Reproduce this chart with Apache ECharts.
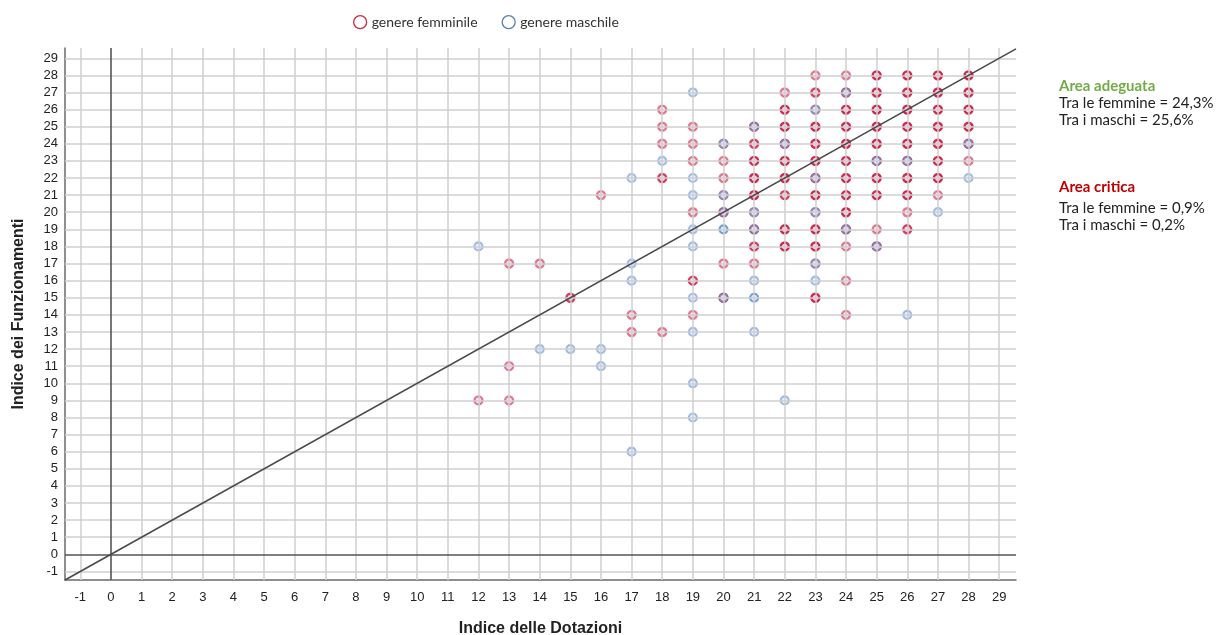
<!DOCTYPE html>
<html><head><meta charset="utf-8">
<script src="https://cdn.jsdelivr.net/npm/echarts@6/dist/echarts.min.js"></script>
<style>html,body{margin:0;padding:0;background:#fff}#c{width:1216px;height:635px}</style>
</head><body><div id="c"></div>
<script>
// ---- data ----
const xTicks = [-1,0,1,2,3,4,5,6,7,8,9,10,11,12,13,14,15,16,17,18,19,20,21,22,23,24,25,26,27,28,29];
const yTicks = [-1,0,1,2,3,4,5,6,7,8,9,10,11,12,13,14,15,16,17,18,19,20,21,22,23,24,25,26,27,28,29];
const xExtent = [-1.5, 29.55];
const yExtent = [-1.5, 29.6];
const seriesNames = ['genere femminile', 'genere maschile'];
// [Indice delle Dotazioni, Indice dei Funzionamenti, overlap count read from darkness]
const femalePoints = [
 [12,9,1],
 [13,17,1],[13,11,1],[13,9,1],
 [14,17,1],
 [15,15,2],
 [16,21,1],
 [17,14,1],[17,13,1],
 [18,26,1],[18,25,1],[18,24,1],[18,22,2],[18,13,1],
 [19,25,1],[19,24,1],[19,23,1],[19,20,1],[19,16,2],[19,14,1],
 [20,24,1],[20,23,1],[20,22,1],[20,21,1],[20,20,2],[20,17,1],[20,15,2],
 [21,25,2],[21,24,2],[21,23,3],[21,22,3],[21,21,3],[21,20,1],[21,19,2],[21,18,2],[21,17,1],
 [22,27,1],[22,26,3],[22,25,3],[22,24,2],[22,23,3],[22,22,3],[22,21,2],[22,19,3],[22,18,3],
 [23,28,1],[23,27,2],[23,26,1],[23,25,3],[23,24,3],[23,23,3],[23,22,2],[23,21,3],[23,20,1],[23,19,3],[23,18,3],[23,17,1],[23,15,3],
 [24,28,1],[24,27,2],[24,26,3],[24,25,3],[24,24,3],[24,23,3],[24,22,3],[24,21,3],[24,20,3],[24,19,2],[24,18,1],[24,16,1],[24,14,1],
 [25,28,3],[25,27,3],[25,26,3],[25,25,3],[25,24,3],[25,23,2],[25,22,3],[25,21,3],[25,19,1],[25,18,2],
 [26,28,3],[26,27,3],[26,26,3],[26,25,3],[26,24,3],[26,23,2],[26,22,3],[26,21,3],[26,20,1],[26,19,2],
 [27,28,3],[27,27,3],[27,26,3],[27,25,3],[27,24,3],[27,23,3],[27,22,3],[27,21,1],
 [28,28,3],[28,27,3],[28,26,3],[28,25,3],[28,24,2],[28,23,1]
];
const malePoints = [
 [12,18,1],[14,12,1],[15,12,1],[16,12,1],[16,11,1],
 [17,22,1],[17,17,1],[17,16,1],[17,6,1],
 [18,23,1],
 [19,27,1],[19,22,1],[19,21,1],[19,19,1],[19,18,1],[19,15,1],[19,13,1],[19,10,1],[19,8,1],
 [20,24,1],[20,21,1],[20,20,1],[20,19,2],[20,15,1],
 [21,25,1],[21,20,1],[21,19,1],[21,16,1],[21,15,2],[21,13,1],
 [22,24,1],[22,9,1],
 [23,26,1],[23,22,1],[23,20,1],[23,17,1],[23,16,1],
 [24,27,1],[24,19,1],
 [25,23,1],[25,18,1],
 [26,23,1],[26,14,1],
 [27,20,1],
 [28,24,1],[28,22,1]
];

// ---- build ----
const FEM = '#c8143f', MAL = '#4a80d0';
function toItems(pts, a) {
  return pts.map(p => ({ value: [p[0], p[1]], itemStyle: { opacity: 1 - Math.pow(1 - a, p[2]) } }));
}
const gridLineData = xTicks.filter(v => v !== 0).map(v => ({ xAxis: v }))
  .concat(yTicks.filter(v => v !== 0).map(v => ({ yAxis: v })));
const zeroLineData = [{ xAxis: 0 }, { yAxis: 0 }];
const lblFont = '"Liberation Sans", Arial, sans-serif';
const txtFont = 'Lato, "Open Sans", sans-serif';

const chart = echarts.init(document.getElementById('c'), null, { renderer: 'canvas' });
chart.setOption({
  animation: false,
  backgroundColor: '#fff',
  legend: {
    left: 348, top: 10, itemWidth: 13, itemHeight: 13, itemGap: 24, itemStyle: {},
    textStyle: { fontFamily: txtFont, fontSize: 14, color: '#333' },
    data: [
      { name: seriesNames[0], icon: 'circle', itemStyle: { color: '#fff', borderColor: '#cc2a3c', borderWidth: 1.3, opacity: 1 } },
      { name: seriesNames[1], icon: 'circle', itemStyle: { color: '#fff', borderColor: '#5d7ea8', borderWidth: 1.3, opacity: 1 } }
    ]
  },
  grid: { left: 65, right: 200, top: 48, bottom: 55, containLabel: false, outerBoundsMode: 'none' },
  xAxis: {
    type: 'value', min: xExtent[0], max: xExtent[1], splitNumber: 31, minInterval: 1, maxInterval: 1,
    axisLine: { show: true, onZero: false, lineStyle: { color: '#6a6a6a', width: 1.5 } },
    axisTick: { show: false },
    splitLine: { show: false },
    axisLabel: { showMinLabel: false, showMaxLabel: false, margin: 11, fontFamily: lblFont, fontSize: 13, color: '#222' },
    name: 'Indice delle Dotazioni', nameLocation: 'middle', nameGap: 41,
    nameTextStyle: { fontFamily: lblFont, fontSize: 16, fontWeight: 'bold', color: '#222' }
  },
  yAxis: {
    type: 'value', min: yExtent[0], max: yExtent[1], splitNumber: 31, minInterval: 1, maxInterval: 1,
    axisLine: { show: true, onZero: false, lineStyle: { color: '#6a6a6a', width: 1.5 } },
    axisTick: { show: false },
    splitLine: { show: false },
    axisLabel: { showMinLabel: false, showMaxLabel: false, margin: 7, fontFamily: lblFont, fontSize: 13, color: '#222' },
    name: 'Indice dei Funzionamenti', nameLocation: 'middle', nameGap: 38, nameRotate: 90,
    nameTextStyle: { fontFamily: lblFont, fontSize: 16, fontWeight: 'bold', color: '#222' }
  },
  graphic: [
    { type: 'text', x: 1059, y: 86, style: { text: 'Area adeguata', fill: '#70ad47', font: 'bold 15px ' + txtFont, verticalAlign: 'middle' } },
    { type: 'text', x: 1059, y: 103, style: { text: 'Tra le femmine = 24,3%', fill: '#222', font: '15px ' + txtFont, verticalAlign: 'middle' } },
    { type: 'text', x: 1059, y: 120, style: { text: 'Tra i maschi = 25,6%', fill: '#222', font: '15px ' + txtFont, verticalAlign: 'middle' } },
    { type: 'text', x: 1059, y: 187, style: { text: 'Area critica', fill: '#c00000', font: 'bold 15px ' + txtFont, verticalAlign: 'middle' } },
    { type: 'text', x: 1059, y: 208, style: { text: 'Tra le femmine = 0,9%', fill: '#222', font: '15px ' + txtFont, verticalAlign: 'middle' } },
    { type: 'text', x: 1059, y: 225, style: { text: 'Tra i maschi = 0,2%', fill: '#222', font: '15px ' + txtFont, verticalAlign: 'middle' } }
  ],
  series: [
    {
      type: 'line', name: 'grid', data: [], z: 1, silent: true,
      markLine: { silent: true, symbol: ['none', 'none'], label: { show: false }, animation: false,
        lineStyle: { type: 'solid', color: '#cfcfcf', width: 1.5 }, emphasis: { disabled: true }, data: gridLineData }
    },
    {
      type: 'line', name: 'zero', data: [], z: 2, silent: true,
      markLine: { silent: true, symbol: ['none', 'none'], label: { show: false }, animation: false,
        lineStyle: { type: 'solid', color: '#555', width: 1.6 }, emphasis: { disabled: true }, data: zeroLineData }
    },
    {
      type: 'scatter', name: seriesNames[0], z: 3, symbol: 'circle', symbolSize: 8,
      itemStyle: { color: '#f2d3da', borderColor: FEM, borderWidth: 2.4 },
      data: toItems(femalePoints, 0.55)
    },
    {
      type: 'scatter', name: seriesNames[1], z: 4, symbol: 'circle', symbolSize: 8,
      itemStyle: { color: '#dce6f5', borderColor: MAL, borderWidth: 2.2 },
      data: toItems(malePoints, 0.5)
    },
    {
      type: 'line', name: 'diag', z: 5, silent: true, showSymbol: false, symbol: 'none',
      lineStyle: { color: '#4a4a4a', width: 1.6 },
      data: [[xExtent[0], yExtent[0]], [xExtent[1], xExtent[1]]]
    }
  ]
});
</script></body></html>
